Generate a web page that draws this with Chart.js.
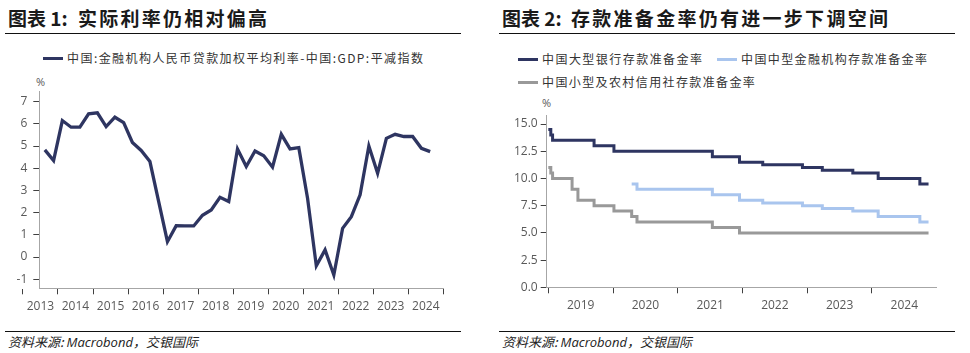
<!DOCTYPE html>
<html>
<head>
<meta charset="utf-8">
<script src="https://cdn.jsdelivr.net/npm/chart.js@4.4.1/dist/chart.umd.min.js"></script>
<style>
  body { margin:0; width:970px; height:353px; background:#fff; position:relative; overflow:hidden;
         font-family:"Noto Sans CJK SC", "Noto Sans", sans-serif; }
  .abs { position:absolute; white-space:nowrap; }
  .fit { display:flex; justify-content:space-between; }
  .title { font-size:19px; line-height:19px; font-weight:700; color:#1a1a1a; top:8px; }
  .rule { position:absolute; height:1.5px; background:#111; }
  .leg { font-size:12px; line-height:16px; color:#333; }
  .dash { position:absolute; height:3.5px; width:20px; }
  .unit { font-family:"Open Sans", sans-serif; font-size:11px; color:#595959; }
  .src { font-size:13px; line-height:16px; font-style:italic; color:#222; top:334px; }
  .src .lat { font-family:"Open Sans", sans-serif; font-size:13px; }
  canvas { position:absolute; }
</style>
</head>
<body>

<!-- 图表 1 -->
<div class="abs title" style="left:8px">图表 1:</div>
<div class="abs title fit" style="left:78px; width:189px">实际利率仍相对偏高</div>
<div class="rule" style="left:5px; width:456px; top:32.5px"></div>
<div class="dash" style="left:43px; top:56.5px; background:#2e3561"></div>
<div class="abs leg fit" style="left:67px; top:50px; width:356px">中国:金融机构人民币贷款加权平均利率-中国:GDP:平减指数</div>
<div class="abs unit" style="left:36px; top:74px">%</div>
<canvas id="chartRate" width="470" height="250" style="left:0; top:70px"></canvas>
<div class="rule" style="left:5px; width:456px; top:330.5px"></div>
<div class="abs src" style="left:8px">资料来源: <span class="lat">Macrobond</span>，交银国际</div>

<!-- 图表 2 -->
<div class="abs title" style="left:502px">图表 2:</div>
<div class="abs title fit" style="left:571px; width:317px">存款准备金率仍有进一步下调空间</div>
<div class="rule" style="left:499px; width:456px; top:32.5px"></div>
<div class="dash" style="left:518px; top:57.5px; background:#2e3561"></div>
<div class="abs leg fit" style="left:542px; top:51px; width:160px">中国大型银行存款准备金率</div>
<div class="dash" style="left:717px; top:57.5px; background:#a9c5ee"></div>
<div class="abs leg fit" style="left:741px; top:51px; width:186px">中国中型金融机构存款准备金率</div>
<div class="dash" style="left:518px; top:80.5px; background:#999999"></div>
<div class="abs leg fit" style="left:542px; top:74px; width:213px">中国小型及农村信用社存款准备金率</div>
<div class="abs unit" style="left:542px; top:95px">%</div>
<canvas id="chartRrr" width="485" height="230" style="left:485px; top:90px"></canvas>
<div class="rule" style="left:499px; width:456px; top:330.5px"></div>
<div class="abs src" style="left:502px">资料来源: <span class="lat">Macrobond</span>，交银国际</div>

<script>
// ---- 图表 1: 实际利率 (季度) ----
const rateQuarters = [
  "2013Q3","2013Q4",
  "2014Q1","2014Q2","2014Q3","2014Q4",
  "2015Q1","2015Q2","2015Q3","2015Q4",
  "2016Q1","2016Q2","2016Q3","2016Q4",
  "2017Q1","2017Q2","2017Q3","2017Q4",
  "2018Q1","2018Q2","2018Q3","2018Q4",
  "2019Q1","2019Q2","2019Q3","2019Q4",
  "2020Q1","2020Q2","2020Q3","2020Q4",
  "2021Q1","2021Q2","2021Q3","2021Q4",
  "2022Q1","2022Q2","2022Q3","2022Q4",
  "2023Q1","2023Q2","2023Q3","2023Q4",
  "2024Q1","2024Q2","2024Q3"
];
const realRate = [
  4.83, 4.35,
  6.15, 5.85, 5.85, 6.45,
  6.50, 5.88, 6.30, 6.06,
  5.16, 4.80, 4.30, 2.50,
  0.69, 1.41, 1.40, 1.40,
  1.88, 2.12, 2.69, 2.50,
  4.87, 4.08, 4.78, 4.56,
  4.05, 5.53, 4.87, 4.93,
  2.65, -0.40, 0.32, -0.81,
  1.29, 1.82, 2.80, 5.00,
  3.77, 5.35, 5.53, 5.43,
  5.43, 4.90, 4.75
];
const rateYearLabels = [2013,2014,2015,2016,2017,2018,2019,2020,2021,2022,2023,2024];
const rateYTicks = [-1,0,1,2,3,4,5,6,7];

// ---- 图表 2: 存款准备金率 (调整日期, 新值) ----
const largeDates = ["2019-01-01","2019-01-15","2019-01-25","2019-09-16","2020-01-06","2021-07-15",
  "2021-12-15","2022-04-25","2022-12-05","2023-03-27","2023-09-15","2024-02-05","2024-09-27","2024-11-15"];
const largeRrr = [14.5, 14.0, 13.5, 13.0, 12.5, 12.0, 11.5, 11.25, 11.0, 10.75, 10.5, 10.0, 9.5, 9.5];

const mediumDates = ["2020-04-15","2020-05-15","2021-07-15","2021-12-15","2022-04-25","2022-12-05",
  "2023-03-27","2023-09-15","2024-02-05","2024-09-27","2024-11-15"];
const mediumRrr = [9.5, 9.0, 8.5, 8.0, 7.75, 7.5, 7.25, 7.0, 6.5, 6.0, 6.0];

const smallDates = ["2019-01-01","2019-01-15","2019-01-25","2019-05-15","2019-06-17","2019-09-16",
  "2020-01-06","2020-04-15","2020-05-15","2021-07-15","2021-12-15","2024-11-15"];
const smallRrr = [11.0, 10.5, 10.0, 9.0, 8.0, 7.5, 7.0, 6.5, 6.0, 5.5, 5.0, 5.0];

const rrrYearLabels = [2019,2020,2021,2022,2023,2024];
const rrrYTicks = [0, 2.5, 5, 7.5, 10, 12.5, 15];

const NAVY = "#2e3561", LIGHT = "#a9c5ee", GREY = "#999999";
const tickFont = { family: "Open Sans", size: 12 };

// 标题和图例: 字符均匀铺满给定宽度
document.querySelectorAll(".fit").forEach(el => {
  const txt = el.textContent;
  el.textContent = "";
  for (const ch of txt) {
    const s = document.createElement("span");
    s.textContent = ch;
    el.appendChild(s);
  }
});

// 季度 -> 年份小数 (季度中点)
function quarterPos(q) {
  const y = parseInt(q.slice(0, 4)), n = parseInt(q.slice(5));
  return y + (n - 1) * 0.25 + 0.125;
}
function datePos(s) {
  const d = new Date(s + "T00:00:00Z");
  const start = Date.UTC(d.getUTCFullYear(), 0, 1);
  return d.getUTCFullYear() + (d - start) / (365 * 86400000);
}
function toPoints(xs, ys, fn) {
  return xs.map((x, i) => ({ x: fn(x), y: ys[i] }));
}
// 年份边界画刻度, 年中位置写标签
function yearTicks(years, withEnd) {
  const t = [];
  years.forEach(y => { t.push(y); t.push(y + 0.5); });
  if (withEnd) t.push(years[years.length - 1] + 1);
  return t;
}

function xScale(min, max, ticks, height, pad) {
  return {
    type: "linear", min: min, max: max,
    afterBuildTicks: s => { s.ticks = ticks.map(v => ({ value: v })); },
    afterFit: s => { s.height = height; },
    border: { color: "#a6a6a6", width: 1 },
    grid: {
      drawOnChartArea: false, drawTicks: true, tickLength: 6, tickWidth: 1,
      tickColor: c => (c.tick && Number.isInteger(c.tick.value)) ? "#404040" : "rgba(0,0,0,0)"
    },
    ticks: {
      autoSkip: false, maxRotation: 0, padding: pad, color: "#595959", font: tickFont,
      callback: v => Number.isInteger(v) ? "" : String(Math.floor(v))
    }
  };
}
function yScale(min, max, ticks, width, fmt, pad) {
  return {
    min: min, max: max,
    afterBuildTicks: s => { s.ticks = ticks.map(v => ({ value: v })); },
    afterFit: s => { s.width = width; },
    border: { color: "#a6a6a6", width: 1 },
    grid: { drawOnChartArea: false, drawTicks: true, tickLength: 6, tickColor: "#404040" },
    ticks: { padding: pad, color: "#595959", font: tickFont, callback: fmt }
  };
}

new Chart(document.getElementById("chartRate").getContext("2d"), {
  type: "line",
  data: {
    datasets: [{
      label: "中国:金融机构人民币贷款加权平均利率-中国:GDP:平减指数",
      data: toPoints(rateQuarters, realRate, quarterPos),
      borderColor: NAVY, borderWidth: 3.3, pointRadius: 0, tension: 0, fill: false,
      borderJoinStyle: "miter"
    }]
  },
  options: {
    responsive: false, animation: false,
    layout: { padding: { top: 21.7, right: 26.7, left: 0, bottom: 0 } },
    plugins: { legend: { display: false }, tooltip: { enabled: false } },
    scales: {
      x: xScale(2013.467, 2025, yearTicks(rateYearLabels, true), 31.7, 5),
      y: yScale(-1.41, 7.45, rateYTicks, 39.3, v => String(v), 6)
    }
  }
});

new Chart(document.getElementById("chartRrr").getContext("2d"), {
  type: "line",
  data: {
    datasets: [
      { label: "中国小型及农村信用社存款准备金率", data: toPoints(smallDates, smallRrr, datePos),
        borderColor: GREY, borderWidth: 3, pointRadius: 0, stepped: true, fill: false },
      { label: "中国中型金融机构存款准备金率", data: toPoints(mediumDates, mediumRrr, datePos),
        borderColor: LIGHT, borderWidth: 3, pointRadius: 0, stepped: true, fill: false },
      { label: "中国大型银行存款准备金率", data: toPoints(largeDates, largeRrr, datePos),
        borderColor: NAVY, borderWidth: 3, pointRadius: 0, stepped: true, fill: false }
    ]
  },
  options: {
    responsive: false, animation: false,
    layout: { padding: { top: 25, right: 33.3, left: 0, bottom: 0 } },
    plugins: { legend: { display: false }, tooltip: { enabled: false } },
    scales: {
      x: xScale(2018.975, 2025, yearTicks(rrrYearLabels, false), 32.7, 5),
      y: yScale(0, 15.83, rrrYTicks, 61.7, v => v.toFixed(1), 3)
    }
  }
});
</script>
</body>
</html>
